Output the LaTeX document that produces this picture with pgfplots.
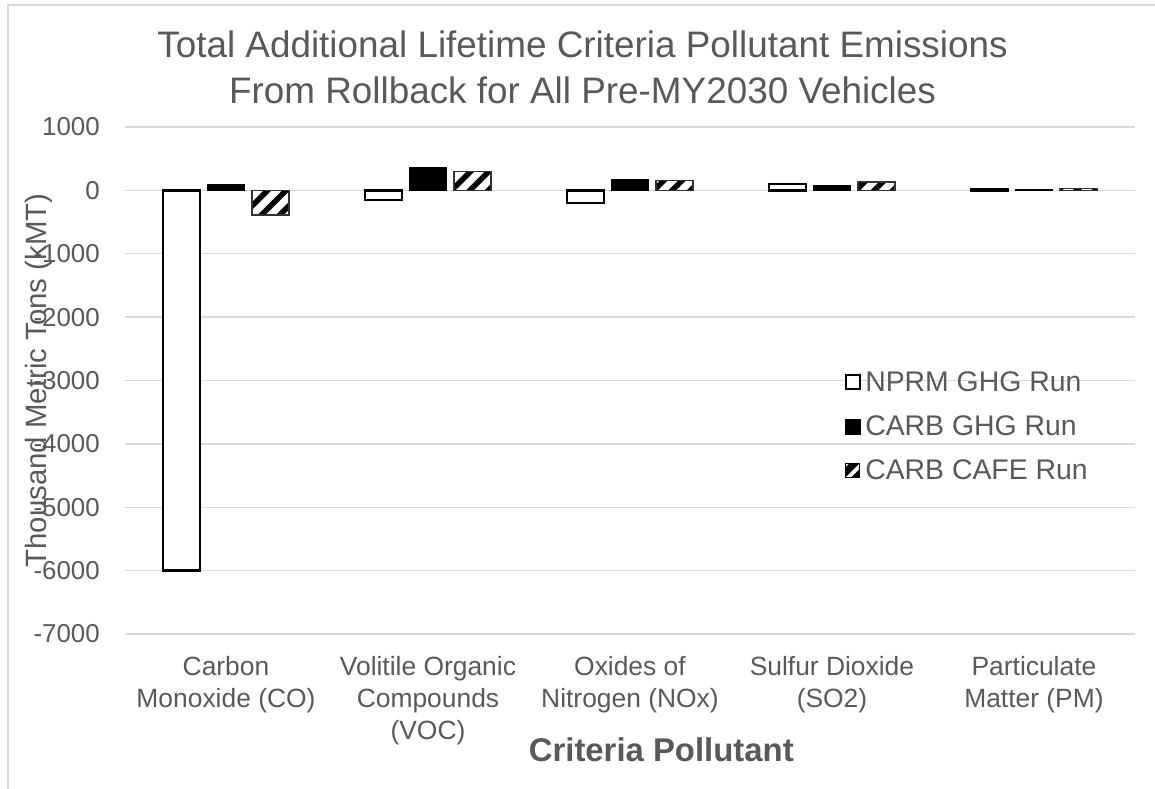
\documentclass[border=0pt]{standalone}
\usepackage{fontspec}
\setmainfont{Liberation Sans}
\usepackage{pgfplots}
\pgfplotsset{compat=1.18}
\usetikzlibrary{patterns.meta}
\definecolor{txt}{HTML}{595959}
\definecolor{gridc}{HTML}{D9D9D9}
\begin{document}
\begin{tikzpicture}
\path[use as bounding box] (0bp,0bp) rectangle (1155bp,-789bp);
\draw[gridc, line width=1.3bp] (8bp,-789bp) -- (8bp,-5bp) -- (1155bp,-5bp);
\begin{axis}[
  at={(125bp,-634bp)}, anchor=south west,
  scale only axis, width=1010bp, height=507bp,
  xmin=-0.5, xmax=4.5, ymin=-7000, ymax=1000,
  ytick={-7000,-6000,-5000,-4000,-3000,-2000,-1000,0,1000},
  yticklabels={-7000,-6000,-5000,-4000,-3000,-2000,-1000,0,1000},
  yticklabel style={font=\fontsize{26}{30}\selectfont, text=txt, inner sep=0pt, anchor=east, xshift=-25bp},
  xtick={0,1,2,3,4},
  xticklabels={Carbon\\Monoxide (CO), Volitile Organic\\Compounds\\(VOC), Oxides of\\Nitrogen (NOx), Sulfur Dioxide\\(SO2), Particulate\\Matter (PM)},
  xticklabel style={font=\fontsize{26.5}{32}\selectfont, text=txt, align=center, inner sep=0pt, anchor=north, yshift=-22bp},
  ymajorgrids, grid style={gridc, line width=1.3bp},
  axis line style={draw=none}, major tick length=0pt,
  xlabel={Criteria Pollutant},
  xlabel style={at={(axis description cs:0.531,-0.229)}, anchor=center, font=\bfseries\fontsize{33}{36}\selectfont, text=txt},
  ylabel={Thousand Metric Tons (kMT)},
  ylabel style={at={(axis description cs:-0.085,0.5)}, anchor=center, rotate=0, font=\fontsize{29.5}{32}\selectfont, text=txt},
  title={Total Additional Lifetime Criteria Pollutant Emissions\\From Rollback for All Pre-MY2030 Vehicles},
  title style={align=center, at={(axis description cs:0.453,1.106)}, anchor=center, font=\fontsize{37}{46}\selectfont, text=txt},
  legend style={draw=none, fill=none, at={(axis description cs:0.71,0.522)}, anchor=north west,
    font=\fontsize{28.5}{32}\selectfont, text=txt, row sep=19bp, inner sep=0pt},
  legend cell align=left,
  clip=false,
]
\addplot[ybar, bar width=37bp, bar shift=-44.5bp, fill=white, draw=black, line width=2.5bp,
  legend image code/.code={\draw[fill=white, draw=black, line width=2.4bp] (0bp,-7bp) rectangle (14bp,7bp);}]
  coordinates {(0,-6000) (1,-150) (2,-200) (3,100) (4,20)};
\addlegendentry{NPRM GHG Run}
\addplot[ybar, bar width=37bp, bar shift=0bp, fill=black, draw=black, line width=0.8bp,
  legend image code/.code={\fill[black] (0bp,-7.5bp) rectangle (15bp,7.5bp);}]
  coordinates {(0,90) (1,367) (2,170) (3,80) (4,10)};
\addlegendentry{CARB GHG Run}
\addplot[ybar, bar width=37bp, bar shift=44.5bp, draw=black!80, line width=1.3bp,
  pattern={Lines[angle=45,distance=13bp,line width=5.5bp]}, pattern color=black,
  legend image code/.code={\draw[draw=black, line width=1.3bp, pattern={Lines[angle=45,distance=11bp,line width=7bp]}, pattern color=black] (0bp,-7bp) rectangle (14bp,7bp);}]
  coordinates {(0,-390) (1,300) (2,160) (3,130) (4,30)};
\addlegendentry{CARB CAFE Run}
\end{axis}
\end{tikzpicture}
\end{document}
